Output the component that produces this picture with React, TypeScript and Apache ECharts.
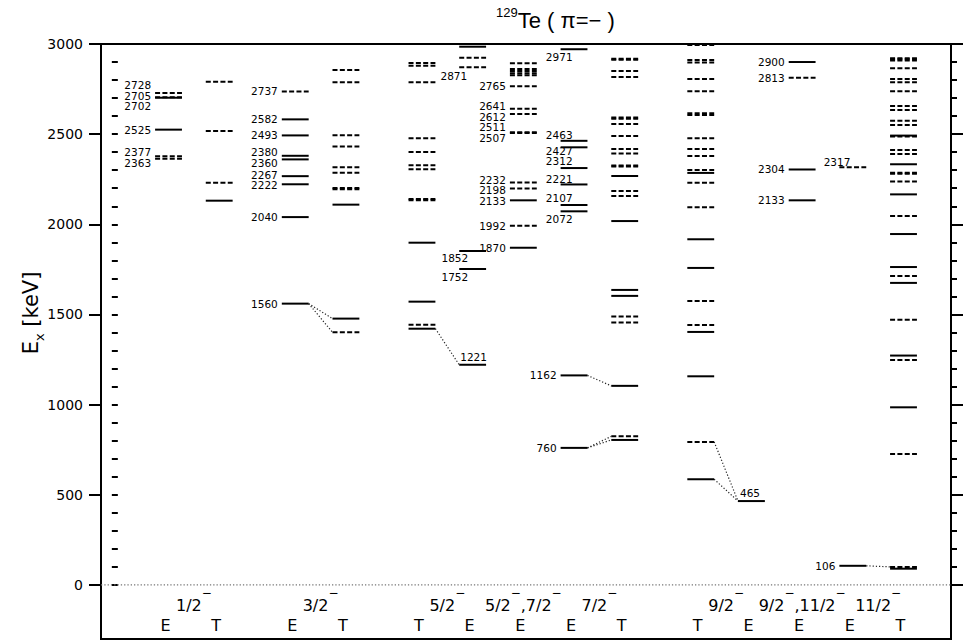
import React, { useEffect, useRef } from 'react';
import * as echarts from 'echarts';

// ---- axis ranges and ticks ----
const Y_MIN = -300;
const Y_MAX = 3000;
const MAJOR_TICKS = [0, 500, 1000, 1500, 2000, 2500, 3000];
const MINOR_TICKS: number[] = [];
for (let v = 0; v <= 3000; v += 100) MINOR_TICKS.push(v);

// ---- columns of the level scheme (E = experiment, T = theory) ----
const COLUMN_KIND = ['E', 'T', 'E', 'T', 'T', 'E', 'E', 'E', 'T', 'T', 'E', 'E', 'E', 'T'];
const COLUMN_SLOT = [1, 2, 3.5, 4.5, 6, 7, 8, 9, 10, 11.5, 12.5, 13.5, 14.5, 15.5];

// spin-parity captions, each over one or more columns
const SPIN_GROUPS: { spins: string[]; cols: number[] }[] = [
  { spins: ['1/2'], cols: [0, 1] },
  { spins: ['3/2'], cols: [2, 3] },
  { spins: ['5/2'], cols: [4, 5] },
  { spins: ['5/2', '7/2'], cols: [6] },
  { spins: ['7/2'], cols: [7, 8] },
  { spins: ['9/2'], cols: [9, 10] },
  { spins: ['9/2', '11/2'], cols: [11] },
  { spins: ['11/2'], cols: [12, 13] },
];

// ---- levels: [energy keV, 's' firm | 'd' tentative, labelled?] ----
type Lvl = [number, 's' | 'd', number?];
const EXP_1_2: Lvl[] = [[2728, 'd', 1], [2705, 'd', 1], [2702, 's', 1], [2525, 's', 1], [2377, 'd', 1], [2363, 'd', 1]];
const TH_1_2: Lvl[] = [[2791, 'd'], [2518, 'd'], [2231, 'd'], [2131, 's']];
const EXP_3_2: Lvl[] = [[2737, 'd', 1], [2582, 's', 1], [2493, 's', 1], [2380, 's', 1], [2360, 's', 1], [2267, 's', 1], [2222, 's', 1], [2040, 's', 1], [1560, 's', 1]];
const TH_3_2: Lvl[] = [[2856, 'd'], [2788, 'd'], [2494, 'd'], [2431, 'd'], [2316, 'd'], [2286, 'd'], [2202, 'd'], [2194, 'd'], [2109, 's'], [1477, 's'], [1401, 'd']];
const TH_5_2: Lvl[] = [[2895, 'd'], [2880, 'd'], [2788, 'd'], [2477, 'd'], [2401, 'd'], [2327, 'd'], [2305, 'd'], [2140, 'd'], [2134, 'd'], [1898, 's'], [1571, 's'], [1443, 'd'], [1421, 's']];
const EXP_5_2: Lvl[] = [[2985, 's'], [2924, 'd'], [2871, 'd', 1], [1852, 's', 1], [1752, 's', 1], [1221, 's', 1]];
const EXP_5_7: Lvl[] = [[2893, 'd'], [2862, 'd'], [2850, 'd'], [2838, 'd'], [2826, 'd'], [2765, 'd', 1], [2641, 'd', 1], [2612, 'd', 1], [2511, 'd', 1], [2507, 'd', 1], [2232, 'd', 1], [2198, 'd', 1], [2133, 's', 1], [1992, 'd', 1], [1870, 's', 1]];
const EXP_7_2: Lvl[] = [[2971, 's', 1], [2463, 's', 1], [2427, 's', 1], [2312, 's', 1], [2221, 's', 1], [2107, 's', 1], [2072, 's', 1], [1162, 's', 1], [760, 's', 1]];
const TH_7_2: Lvl[] = [[2918, 'd'], [2912, 'd'], [2850, 'd'], [2817, 'd'], [2592, 'd'], [2586, 'd'], [2556, 'd'], [2490, 'd'], [2418, 'd'], [2392, 'd'], [2326, 'd'], [2320, 'd'], [2268, 's'], [2185, 'd'], [2157, 'd'], [2018, 's'], [1636, 's'], [1603, 's'], [1488, 'd'], [1455, 'd'], [1104, 's'], [824, 'd'], [804, 's']];
const TH_9_2: Lvl[] = [[2995, 'd'], [2911, 'd'], [2898, 'd'], [2806, 'd'], [2738, 'd'], [2616, 'd'], [2606, 'd'], [2477, 'd'], [2418, 'd'], [2379, 'd'], [2301, 'd'], [2285, 's'], [2231, 'd'], [2094, 'd'], [1917, 's'], [1758, 's'], [1575, 'd'], [1442, 'd'], [1403, 's'], [1157, 's'], [793, 'd'], [586, 's']];
const EXP_9_2: Lvl[] = [[465, 's', 1]];
const EXP_9_11: Lvl[] = [[2900, 's', 1], [2813, 'd', 1], [2304, 's', 1], [2133, 's', 1]];
const EXP_11_2: Lvl[] = [[2317, 'd', 1], [106, 's', 1]];
const TH_11_2: Lvl[] = [[2921, 'd'], [2915, 'd'], [2909, 'd'], [2865, 'd'], [2806, 'd'], [2788, 'd'], [2738, 'd'], [2656, 'd'], [2634, 'd'], [2575, 'd'], [2551, 'd'], [2492, 's'], [2487, 'd'], [2412, 'd'], [2390, 'd'], [2333, 's'], [2286, 'd'], [2280, 'd'], [2237, 'd'], [2166, 's'], [2046, 'd'], [1946, 's'], [1763, 's'], [1713, 'd'], [1675, 's'], [1470, 'd'], [1272, 's'], [1248, 'd'], [985, 's'], [726, 'd'], [100, 'd'], [90, 's']];

const COLUMN_LEVELS: Lvl[][] = [
  EXP_1_2, TH_1_2, EXP_3_2, TH_3_2, TH_5_2, EXP_5_2, EXP_5_7,
  EXP_7_2, TH_7_2, TH_9_2, EXP_9_2, EXP_9_11, EXP_11_2, TH_11_2,
];

// correspondences: [left column, energy, right column, energy]
const LINKS: [number, number, number, number][] = [
  [2, 1560, 3, 1477], [2, 1560, 3, 1401],
  [4, 1421, 5, 1221],
  [7, 1162, 8, 1104], [7, 760, 8, 824], [7, 760, 8, 804],
  [9, 793, 10, 465], [9, 586, 10, 465],
  [12, 106, 13, 100],
];

// ---- presentation ----
const FONT = '"DejaVu Sans", "Liberation Sans", sans-serif';
const TITLE_FONT = '"Liberation Sans", Arial, sans-serif';
const GRID = { left: 101, right: 13, top: 44, bottom: 4 };
const CHART_W = 964;
const CHART_H = 643;
const X_MIN = -0.332;
const X_MAX = 16.437;
const HALF = 0.265; // half length of a level bar, in slot units
const PX_PER_KEV = (CHART_H - GRID.top - GRID.bottom) / (Y_MAX - Y_MIN);
const LABEL_GAP_KEV = 10.5 / PX_PER_KEV;

// labels that sit above / below their bar instead of to its left (pixel offsets from bar start)
const LABEL_TWEAKS: Record<string, { dx: number; dy: number; align: 'left' | 'right' }> = {
  '5:2871': { dx: 8, dy: 8.5, align: 'right' },
  '5:1852': { dx: 9, dy: 7.5, align: 'right' },
  '5:1752': { dx: 9, dy: 7.5, align: 'right' },
  '5:1221': { dx: 1, dy: -8, align: 'left' },
  '7:2971': { dx: 12, dy: 7.5, align: 'right' },
  '7:2463': { dx: 12, dy: -5.5, align: 'right' },
  '7:2427': { dx: 12, dy: 3.5, align: 'right' },
  '7:2312': { dx: 12, dy: -7, align: 'right' },
  '7:2221': { dx: 12, dy: -5.5, align: 'right' },
  '7:2107': { dx: 12, dy: -7.5, align: 'right' },
  '7:2072': { dx: 12, dy: 8, align: 'right' },
  '10:465': { dx: 2, dy: -8, align: 'left' },
  '12:2317': { dx: 11, dy: -5.5, align: 'right' },
};

// spread crowded labels of one column so they do not overlap (energies sorted high to low)
function spreadLabels(values: number[], gap: number): number[] {
  let clusters = values.map((v, i) => ({ idx: [i], center: v }));
  let merged = true;
  while (merged) {
    merged = false;
    for (let i = 0; i < clusters.length - 1; i++) {
      const a = clusters[i];
      const b = clusters[i + 1];
      const aLow = a.center - (gap * (a.idx.length - 1)) / 2;
      const bHigh = b.center + (gap * (b.idx.length - 1)) / 2;
      if (aLow - bHigh < gap) {
        const idx = a.idx.concat(b.idx);
        const center = idx.reduce((s, k) => s + values[k], 0) / idx.length;
        clusters.splice(i, 2, { idx, center });
        merged = true;
        break;
      }
    }
  }
  const out = values.slice();
  clusters.forEach((c) => {
    const n = c.idx.length;
    c.idx.forEach((k, j) => {
      out[k] = c.center + gap * ((n - 1) / 2 - j);
    });
  });
  return out;
}

type LevelItem = { x: number; e: number; dashed: boolean };
type LabelItem = { x: number; y: number; text: string; tweak?: { dx: number; dy: number; align: 'left' | 'right' } };

function buildItems() {
  const levels: LevelItem[] = [];
  const labels: LabelItem[] = [];
  COLUMN_LEVELS.forEach((lvls, col) => {
    const x = COLUMN_SLOT[col];
    lvls.forEach(([e, s]) => levels.push({ x, e, dashed: s === 'd' }));
    const labelled = lvls.filter((l) => l[2]).map((l) => l[0]).sort((a, b) => b - a);
    const plain = labelled.filter((e) => !LABEL_TWEAKS[`${col}:${e}`]);
    const spread = spreadLabels(plain, LABEL_GAP_KEV);
    plain.forEach((e, i) => labels.push({ x, y: spread[i], text: String(e) }));
    labelled
      .filter((e) => LABEL_TWEAKS[`${col}:${e}`])
      .forEach((e) => labels.push({ x, y: e, text: String(e), tweak: LABEL_TWEAKS[`${col}:${e}`] }));
  });
  return { levels, labels };
}

function buildOption() {
  const { levels, labels } = buildItems();
  const linkData = LINKS.map(([c1, e1, c2, e2]) => [COLUMN_SLOT[c1] + HALF, e1, COLUMN_SLOT[c2] - HALF, e2]);
  const spinData = SPIN_GROUPS.map((g) => [
    g.cols.reduce((s, c) => s + COLUMN_SLOT[c], 0) / g.cols.length,
    Y_MIN,
  ]);

  const yBase = {
    type: 'value',
    min: Y_MIN,
    max: Y_MAX,
    splitLine: { show: false },
    axisLine: { show: false },
  };
  const tickStyle = { color: '#000', width: 2 };

  return {
    animation: false,
    backgroundColor: '#fff',
    grid: {
      ...GRID,
      show: true,
      borderColor: '#000',
      borderWidth: 2,
      backgroundColor: 'transparent',
      containLabel: false,
    },
    xAxis: { type: 'value', min: X_MIN, max: X_MAX, show: false },
    yAxis: [
      {
        ...yBase,
        position: 'left',
        axisTick: { show: true, inside: false, length: 6, customValues: MINOR_TICKS, lineStyle: tickStyle },
        axisLabel: {
          show: true,
          customValues: MAJOR_TICKS,
          formatter: (v: number) => String(v),
          margin: 18,
          color: '#000',
          fontSize: 14,
          fontFamily: FONT,
        },
      },
      {
        ...yBase,
        position: 'left',
        axisTick: { show: true, inside: false, length: 12, customValues: MAJOR_TICKS, lineStyle: tickStyle },
        axisLabel: { show: false },
      },
      {
        ...yBase,
        position: 'right',
        axisTick: { show: true, inside: false, length: 6, customValues: MINOR_TICKS, lineStyle: tickStyle },
        axisLabel: { show: false },
      },
      {
        ...yBase,
        position: 'right',
        axisTick: { show: true, inside: false, length: 12, customValues: MAJOR_TICKS, lineStyle: tickStyle },
        axisLabel: { show: false },
      },
    ],
    graphic: [
      {
        type: 'text',
        left: 496,
        top: 6,
        style: {
          text: '{s|129}{m|Te ( π=− )}',
          fill: '#000',
          rich: {
            s: { fontSize: 13, fontFamily: TITLE_FONT, lineHeight: 13, verticalAlign: 'top' },
            m: { fontSize: 22, fontFamily: TITLE_FONT, lineHeight: 28 },
          },
        },
      },
      {
        type: 'text',
        x: 31,
        y: 313,
        rotation: Math.PI / 2,
        style: {
          text: '{e|E}{x|x}{k| [keV]}',
          fill: '#000',
          align: 'center',
          verticalAlign: 'middle',
          rich: {
            e: { fontSize: 21, fontFamily: FONT, lineHeight: 30 },
            x: { fontSize: 13, fontFamily: FONT, lineHeight: 13, verticalAlign: 'bottom' },
            k: { fontSize: 21, fontFamily: FONT, lineHeight: 30 },
          },
        },
      },
    ],
    series: [
      {
        // dotted ground-state reference line
        type: 'line',
        data: [[X_MIN, 0], [X_MAX, 0]],
        symbol: 'none',
        silent: true,
        lineStyle: { color: '#777', width: 1.3, type: [1.3, 2] },
        z: 1,
      },
      {
        // correspondence links between experiment and theory
        type: 'custom',
        silent: true,
        data: linkData,
        renderItem: (_p: any, api: any) => {
          const a = api.coord([api.value(0), api.value(1)]);
          const b = api.coord([api.value(2), api.value(3)]);
          return {
            type: 'line',
            shape: { x1: a[0], y1: a[1], x2: b[0], y2: b[1] },
            style: { stroke: '#222', lineWidth: 1.2, lineDash: [1.2, 2] },
          };
        },
        z: 2,
      },
      {
        // level bars
        type: 'custom',
        silent: true,
        data: levels.map((l) => [l.x, l.e, l.dashed ? 1 : 0]),
        renderItem: (_p: any, api: any) => {
          const x = api.value(0);
          const e = api.value(1);
          const a = api.coord([x - HALF, e]);
          const b = api.coord([x + HALF, e]);
          return {
            type: 'line',
            shape: { x1: a[0], y1: a[1], x2: b[0], y2: b[1] },
            style: {
              stroke: '#000',
              lineWidth: 2,
              lineDash: api.value(2) ? [5, 2.33] : null,
            },
          };
        },
        z: 3,
      },
      {
        // energy labels
        type: 'custom',
        silent: true,
        data: labels.map((l) => [l.x - HALF, l.y]),
        renderItem: (params: any, api: any) => {
          const item = labels[params.dataIndex];
          const p = api.coord([api.value(0), api.value(1)]);
          const t = item.tweak;
          return {
            type: 'text',
            x: p[0] + (t ? t.dx : -4),
            y: p[1] + (t ? t.dy : 0),
            style: {
              text: item.text,
              fill: '#000',
              fontSize: 10.5,
              fontFamily: FONT,
              align: t ? t.align : 'right',
              verticalAlign: 'middle',
            },
          };
        },
        z: 4,
      },
      {
        // E / T captions under each column
        type: 'custom',
        silent: true,
        clip: false,
        data: COLUMN_SLOT.map((s) => [s, Y_MIN]),
        renderItem: (params: any, api: any) => {
          const p = api.coord([api.value(0), api.value(1)]);
          return {
            type: 'text',
            x: p[0] - 3,
            y: p[1] - 14,
            style: {
              text: COLUMN_KIND[params.dataIndex],
              fill: '#000',
              fontSize: 16,
              fontFamily: FONT,
              align: 'center',
              verticalAlign: 'middle',
            },
          };
        },
        z: 4,
      },
      {
        // spin-parity captions
        type: 'custom',
        silent: true,
        clip: false,
        data: spinData,
        renderItem: (params: any, api: any) => {
          const p = api.coord([api.value(0), api.value(1)]);
          const g = SPIN_GROUPS[params.dataIndex];
          const text = g.spins.map((s) => `{n|${s}}{s|−}`).join('{n|,}');
          return {
            type: 'text',
            x: p[0],
            y: p[1] - 34,
            style: {
              text,
              fill: '#000',
              align: 'center',
              verticalAlign: 'middle',
              rich: {
                n: { fontSize: 16, fontFamily: FONT, lineHeight: 36 },
                s: { fontSize: 12, fontFamily: FONT, lineHeight: 12, verticalAlign: 'top' },
              },
            },
          };
        },
        z: 4,
      },
    ],
  };
}

export default function App() {
  const ref = useRef<HTMLDivElement>(null);
  useEffect(() => {
    if (!ref.current) return;
    const chart = echarts.init(ref.current, null, { renderer: 'svg' });
    chart.setOption(buildOption() as any);
    return () => chart.dispose();
  }, []);
  return (
    <div
      ref={ref}
      style={{ position: 'fixed', left: 0, top: 0, width: CHART_W, height: CHART_H, background: '#fff' }}
    />
  );
}
